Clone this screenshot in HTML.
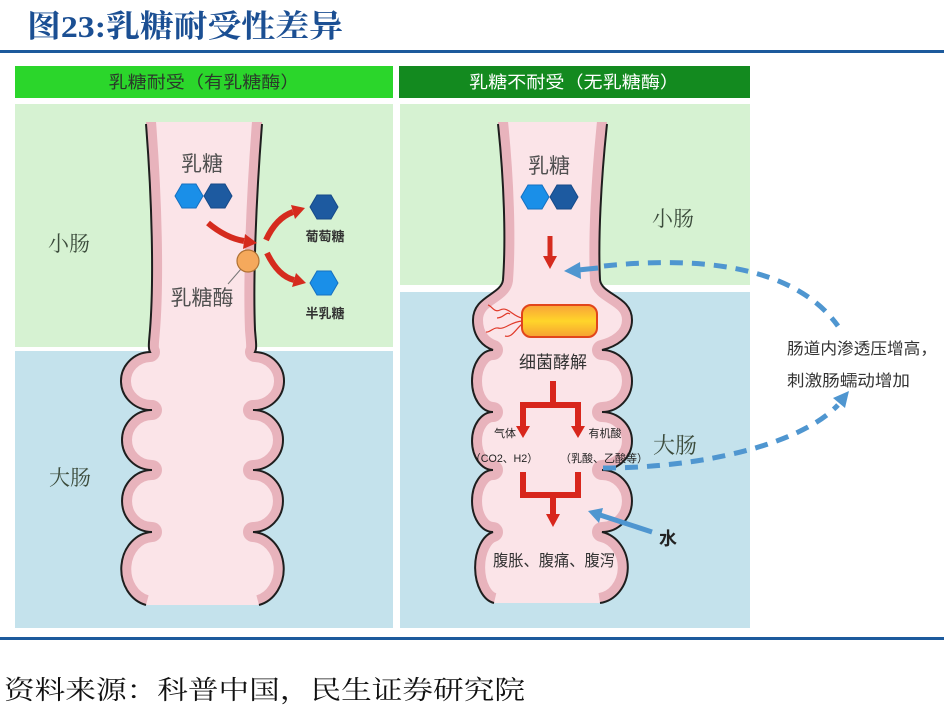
<!DOCTYPE html>
<html><head><meta charset="utf-8">
<style>
html,body{margin:0;padding:0;background:#fff;}
svg{display:block;}
.s{font-family:"Liberation Sans","Noto Sans CJK SC",sans-serif;}
.r{font-family:"Liberation Serif","Noto Serif CJK SC",serif;}
</style></head><body>
<svg width="944" height="708" viewBox="0 0 944 708" xmlns="http://www.w3.org/2000/svg">
<defs>
 <clipPath id="cl"><path d="M146,122 C152,200 154,280 150,330 C149,342 148,348 150,352 A30 29 0 0 0 152,410 A30 30 0 0 0 152,470 A30 31 0 0 0 152,532 A32 37 0 0 0 146,605 L259,605 A32 37 0 0 0 253,532 A30 31 0 0 0 253,470 A30 30 0 0 0 253,410 A30 29 0 0 0 255,352 C257,348 256,342 255,330 C253,280 256,200 262,122 Z"/></clipPath>
 <clipPath id="cr"><path d="M498,122 C504,180 506,240 503,280 C501,295 473,296 473,320 C473,338 484,347 493,350 A21 31 0 0 0 493,412 A21 29 0 0 0 493,470 A21 31 0 0 0 493,532 A22 36 0 0 0 494,603 L600,603 A32 36 0 0 0 602,532 A30 31 0 0 0 602,470 A30 29 0 0 0 602,412 A30 31 0 0 0 602,350 C615,347 632,338 632,320 C632,296 602,295 600,280 C598,240 601,180 607,122 Z"/></clipPath>
 <linearGradient id="bac" x1="0" y1="0" x2="0" y2="1">
  <stop offset="0" stop-color="#f8a23a"/><stop offset="0.5" stop-color="#ffd52a"/><stop offset="1" stop-color="#f6a032"/>
 </linearGradient>
</defs>

<rect width="944" height="708" fill="#fff"/>

<!-- title -->
<text class="r" x="27" y="37" font-size="31" font-weight="700" fill="#1b4f93" textLength="316" lengthAdjust="spacingAndGlyphs">图23:乳糖耐受性差异</text>
<rect x="0" y="50" width="944" height="3" fill="#1c5a9c"/>

<!-- headers -->
<rect x="15" y="66" width="378" height="32" fill="#2bd62b"/>
<text class="s" x="204" y="88" font-size="17" fill="#2a3a2a" text-anchor="middle" textLength="191" lengthAdjust="spacingAndGlyphs">乳糖耐受（有乳糖酶）</text>
<rect x="399" y="66" width="351" height="32" fill="#138a1f"/>
<text class="s" x="574" y="88" font-size="17" fill="#ffffff" text-anchor="middle" textLength="210" lengthAdjust="spacingAndGlyphs">乳糖不耐受（无乳糖酶）</text>

<!-- panels -->
<rect x="15" y="104" width="378" height="243" fill="#d6f2d2"/>
<rect x="15" y="351" width="378" height="277" fill="#c4e2ec"/>
<rect x="400" y="104" width="350" height="181" fill="#d6f2d2"/>
<rect x="400" y="292" width="350" height="336" fill="#c4e2ec"/>

<!-- left tube -->
<path d="M146,122 C152,200 154,280 150,330 C149,342 148,348 150,352 A30 29 0 0 0 152,410 A30 30 0 0 0 152,470 A30 31 0 0 0 152,532 A32 37 0 0 0 146,605 L259,605 A32 37 0 0 0 253,532 A30 31 0 0 0 253,470 A30 30 0 0 0 253,410 A30 29 0 0 0 255,352 C257,348 256,342 255,330 C253,280 256,200 262,122 Z" fill="#fbe4e8"/>
<g clip-path="url(#cl)" fill="none" stroke="#e8b3bc" stroke-width="20" stroke-linejoin="round">
 <path d="M146,122 C152,200 154,280 150,330 C149,342 148,348 150,352 A30 29 0 0 0 152,410 A30 30 0 0 0 152,470 A30 31 0 0 0 152,532 A32 37 0 0 0 146,605"/>
 <path d="M262,122 C256,200 253,280 255,330 C256,342 257,348 255,352 A30 29 0 0 1 253,410 A30 30 0 0 1 253,470 A30 31 0 0 1 253,532 A32 37 0 0 1 259,605"/>
</g>
<g fill="none" stroke="#1e1e1e" stroke-width="2">
 <path d="M146,124 C152,200 154,280 150,330 C149,342 148,348 150,352 A30 29 0 0 0 152,410 A30 30 0 0 0 152,470 A30 31 0 0 0 152,532 A32 37 0 0 0 146,605"/>
 <path d="M262,124 C256,200 253,280 255,330 C256,342 257,348 255,352 A30 29 0 0 1 253,410 A30 30 0 0 1 253,470 A30 31 0 0 1 253,532 A32 37 0 0 1 259,605"/>
</g>

<!-- right tube -->
<path d="M498,122 C504,180 506,240 503,280 C501,295 473,296 473,320 C473,338 484,347 493,350 A21 31 0 0 0 493,412 A21 29 0 0 0 493,470 A21 31 0 0 0 493,532 A22 36 0 0 0 494,603 L600,603 A32 36 0 0 0 602,532 A30 31 0 0 0 602,470 A30 29 0 0 0 602,412 A30 31 0 0 0 602,350 C615,347 632,338 632,320 C632,296 602,295 600,280 C598,240 601,180 607,122 Z" fill="#fbe4e8"/>
<g clip-path="url(#cr)" fill="none" stroke="#e8b3bc" stroke-width="20" stroke-linejoin="round">
 <path d="M498,122 C504,180 506,240 503,280 C501,295 473,296 473,320 C473,338 484,347 493,350 A21 31 0 0 0 493,412 A21 29 0 0 0 493,470 A21 31 0 0 0 493,532 A22 36 0 0 0 494,603"/>
 <path d="M607,122 C601,180 598,240 600,280 C602,295 632,296 632,320 C632,338 615,347 602,350 A30 31 0 0 1 602,412 A30 29 0 0 1 602,470 A30 31 0 0 1 602,532 A32 36 0 0 1 600,603"/>
</g>
<g fill="none" stroke="#1e1e1e" stroke-width="2">
 <path d="M498,124 C504,180 506,240 503,280 C501,295 473,296 473,320 C473,338 484,347 493,350 A21 31 0 0 0 493,412 A21 29 0 0 0 493,470 A21 31 0 0 0 493,532 A22 36 0 0 0 494,603"/>
 <path d="M607,124 C601,180 598,240 600,280 C602,295 632,296 632,320 C632,338 615,347 602,350 A30 31 0 0 1 602,412 A30 29 0 0 1 602,470 A30 31 0 0 1 602,532 A32 36 0 0 1 600,603"/>
</g>

<!-- left panel content -->
<text class="s" x="202" y="171" font-size="21" fill="#505050" text-anchor="middle">乳糖</text>
<polygon points="175,196 182,184 196,184 203,196 196,208 182,208" fill="#1a8fe8" stroke="#1670c0" stroke-width="1"/>
<polygon points="204,196 211,184 225,184 232,196 225,208 211,208" fill="#1d5aa0" stroke="#174a88" stroke-width="1"/>

<path d="M208,223 Q226,238 244,241" fill="none" stroke="#d52b1e" stroke-width="6"/>
<polygon points="257,243 245,234 243,249" fill="#d52b1e"/>
<path d="M266,240 Q276,218 293,212" fill="none" stroke="#d52b1e" stroke-width="6"/>
<polygon points="305,208 295,219 291,205" fill="#d52b1e"/>
<path d="M267,253 Q278,276 294,280" fill="none" stroke="#d52b1e" stroke-width="6"/>
<polygon points="306,283 292,287 296,273" fill="#d52b1e"/>

<line x1="241" y1="269" x2="228" y2="284" stroke="#777" stroke-width="1"/>
<circle cx="248" cy="261" r="11" fill="#f5a95c" stroke="#b07234" stroke-width="1.2"/>
<text class="s" x="202" y="305" font-size="21" fill="#505050" text-anchor="middle">乳糖酶</text>

<polygon points="310,207 317,195 331,195 338,207 331,219 317,219" fill="#1d5aa0" stroke="#174a88" stroke-width="1"/>
<text class="s" x="325" y="241" font-size="13" font-weight="700" fill="#333" text-anchor="middle">葡萄糖</text>
<polygon points="310,283 317,271 331,271 338,283 331,295 317,295" fill="#1a8fe8" stroke="#1670c0" stroke-width="1"/>
<text class="s" x="325" y="318" font-size="13" font-weight="700" fill="#333" text-anchor="middle">半乳糖</text>

<text class="r" x="69" y="251" font-size="21" fill="#3c4c3c" text-anchor="middle">小肠</text>
<text class="r" x="70" y="485" font-size="21" fill="#3c4c3c" text-anchor="middle">大肠</text>

<!-- right panel content -->
<text class="s" x="549" y="173" font-size="21" fill="#505050" text-anchor="middle">乳糖</text>
<polygon points="521,197 528,185 542,185 549,197 542,209 528,209" fill="#1a8fe8" stroke="#1670c0" stroke-width="1"/>
<polygon points="550,197 557,185 571,185 578,197 571,209 557,209" fill="#1d5aa0" stroke="#174a88" stroke-width="1"/>

<rect x="547.5" y="236" width="5" height="22" fill="#d52b1e"/>
<polygon points="543,256 557,256 550,269" fill="#d52b1e"/>

<text class="r" x="673" y="226" font-size="21" fill="#3c4c3c" text-anchor="middle">小肠</text>

<!-- bacteria -->
<rect x="522" y="305" width="75" height="32" rx="9" fill="url(#bac)" stroke="#e2451b" stroke-width="2"/>
<g fill="none" stroke="#e03a2a" stroke-width="1.2">
 <path d="M522,318 C512,316 508,306 500,310 C494,313 492,306 488,305"/>
 <path d="M522,321 C510,322 505,330 498,328 C493,327 490,333 486,332"/>
 <path d="M522,324 C515,330 512,338 505,336"/>
 <path d="M510,314 C506,311 504,318 497,318"/>
</g>

<text class="s" x="553" y="368" font-size="17" fill="#333" text-anchor="middle" textLength="68" lengthAdjust="spacingAndGlyphs">细菌酵解</text>

<!-- branch arrows -->
<g fill="none" stroke="#d8261c" stroke-width="6">
 <path d="M553,381 V405"/>
 <path d="M523,428 V405 H578 V428"/>
 <path d="M523,472 V495 H578 V472"/>
 <path d="M553,495 V516"/>
</g>
<polygon points="516,426 530,426 523,438" fill="#d8261c"/>
<polygon points="571,426 585,426 578,438" fill="#d8261c"/>
<polygon points="546,514 560,514 553,527" fill="#d8261c"/>

<text class="s" x="505" y="437" font-size="11" fill="#222" text-anchor="middle">气体</text>
<text class="s" x="605" y="437" font-size="11" fill="#222" text-anchor="middle">有机酸</text>
<text class="s" x="504" y="462" font-size="11" fill="#222" text-anchor="middle" textLength="68" lengthAdjust="spacingAndGlyphs">（CO2、H2）</text>
<text class="s" x="604" y="462" font-size="11" fill="#222" text-anchor="middle" textLength="88" lengthAdjust="spacingAndGlyphs">（乳酸、乙酸等）</text>

<text class="r" x="675" y="453" font-size="22" fill="#3c4c3c" text-anchor="middle">大肠</text>

<text class="s" x="554" y="566" font-size="16" fill="#333" text-anchor="middle" textLength="122" lengthAdjust="spacingAndGlyphs">腹胀、腹痛、腹泻</text>

<!-- water arrow -->
<line x1="652" y1="532" x2="600" y2="515" stroke="#4f96d0" stroke-width="5"/>
<polygon points="588,511 603,508 599,523" fill="#4f96d0"/>
<text class="s" x="668" y="545" font-size="18" font-weight="700" fill="#222" text-anchor="middle">水</text>

<!-- dashed blue arrows -->
<line x1="578" y1="270" x2="598" y2="268" stroke="#4f96d0" stroke-width="5"/>
<polygon points="564,271 580,262 581,279" fill="#4f96d0"/>
<path d="M604,266 C690,257 792,262 838,326" fill="none" stroke="#4f96d0" stroke-width="5" stroke-dasharray="13 9"/>
<path d="M603,468 C700,468 800,445 838,405" fill="none" stroke="#4f96d0" stroke-width="5" stroke-dasharray="13 9"/>
<polygon points="849,391 845,408 833,398" fill="#4f96d0"/>

<text class="s" x="787" y="354" font-size="16" fill="#333" textLength="150" lengthAdjust="spacingAndGlyphs">肠道内渗透压增高，</text>
<text class="s" x="787" y="386" font-size="16" fill="#333" textLength="123" lengthAdjust="spacingAndGlyphs">刺激肠蠕动增加</text>

<!-- bottom line + source -->
<rect x="0" y="637" width="944" height="3" fill="#1c5a9c"/>
<text class="r" x="4" y="699" font-size="26" fill="#111" textLength="521" lengthAdjust="spacingAndGlyphs">资料来源：科普中国，民生证券研究院</text>
</svg>
</body></html>
